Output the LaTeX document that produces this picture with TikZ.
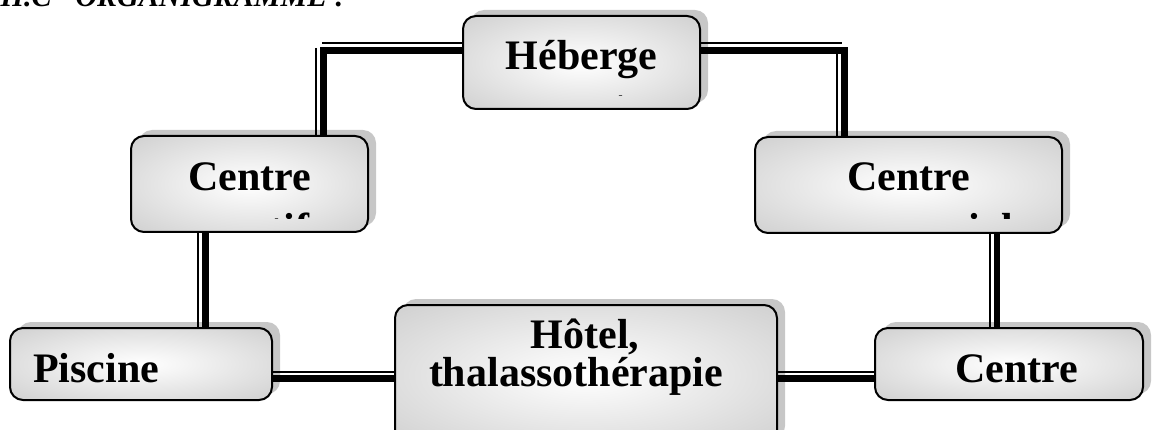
\documentclass[tikz,border=0pt]{standalone}
\usepackage{fontspec}
\setmainfont{Liberation Serif}
\usetikzlibrary{shadows,calc}
\pgfdeclareradialshading{boxshade}{\pgfpoint{0bp}{0bp}}{color(0bp)=(white); color(8bp)=(white!96!black); color(50bp)=(black!26); color(72bp)=(black!28)}
\tikzset{
  orgbox/.style={draw=black, line width=2pt, rounded corners=13pt, shading=boxshade,
    drop shadow={shadow xshift=8pt, shadow yshift=6pt, fill=black!22, opacity=1, draw=none},
    inner sep=0pt},
  lbl/.style={font=\fontsize{42}{48}\selectfont\bfseries, inner sep=0pt, anchor=base},
  titlelbl/.style={font=\fontsize{30}{36}\selectfont\bfseries\itshape, inner sep=0pt, anchor=base east},
  thickl/.style={line width=6.5pt, line cap=butt, line join=miter},
  thinl/.style={line width=2pt, line cap=butt},
}
\begin{document}
\begin{tikzpicture}[x=1pt,y=-1pt]
\useasboundingbox (0,0) rectangle (1155,430);
\clip (0,0) rectangle (1155,430);

% title (cut at the top edge, as in the original)
\node[titlelbl] (title) at (345,7) {II.C\hspace{24pt}ORGANIGRAMME :};

% boxes
\node[orgbox, minimum width=237pt, minimum height=93pt] (heb) at (581.5,62.5) {};
\node[orgbox, minimum width=237pt, minimum height=96pt] (cs) at (249.5,184) {};
\node[orgbox, minimum width=307pt, minimum height=96pt] (cc) at (908.5,185) {};
\node[orgbox, minimum width=262pt, minimum height=72pt] (pis) at (141,364) {};
\node[orgbox, minimum width=382pt, minimum height=140pt] (hot) at (586,375) {};
\node[orgbox, minimum width=268pt, minimum height=72pt] (cr) at (1009,364) {};

% texts (clipped as in the original)
\begin{scope}
  \clip (463,16) rectangle (700,96);
  \node[lbl] (hebt) at (581.5,70) {Héberge};
  \node[lbl] (hebt2) at (581.5,120) {ment};
\end{scope}
\begin{scope}
  \clip (131,136) rectangle (368,219);
  \node[lbl] (cst) at (249.5,191) {Centre};
  \node[lbl] (cst2) at (249.5,242) {sportif};
\end{scope}
\begin{scope}
  \clip (755,137) rectangle (1062,219);
  \node[lbl] (cct) at (908.5,191) {Centre};
  \node[lbl] (cct2) at (908.5,242) {commercial};
\end{scope}
\node[lbl, anchor=base west] (pist) at (33,382) {Piscine};
\node[lbl] (hott) at (585,348) {Hôtel,};
\node[lbl] (hott2) at (576,386) {thalassothérapie};
\node[lbl] (crt) at (1017,382) {Centre};

% connector coordinates
\coordinate (tlc) at (323.7,50.7);
\coordinate (tlh) at (322,43.3);
\coordinate (tlv) at (316,48);
\coordinate (trc) at (844.5,50.7);
\coordinate (trh) at (841.7,43.3);
\coordinate (trv) at (837,48);
\coordinate (llk) at (205.7,280);
\coordinate (llt) at (198.3,280);
\coordinate (rlk) at (997,280);
\coordinate (rlt) at (989.5,280);
\coordinate (bhk) at (330,378.7);
\coordinate (bht) at (330,371.7);

% top left
\draw[thickl] (heb.west |- tlc) -- (tlc) -- (tlc |- cs.north);
\draw[thinl] (tlh) -- (tlh -| heb.west);
\draw[thinl] (tlv) -- (tlv |- cs.north);
% top right
\draw[thickl] (heb.east |- trc) -- (trc) -- (trc |- cc.north);
\draw[thinl] (heb.east |- trh) -- (trh);
\draw[thinl] (trv) -- (trv |- cc.north);
% left vertical
\draw[thickl] (llk |- cs.south) -- (llk |- pis.north);
\draw[thinl] (llt |- cs.south) -- (llt |- pis.north);
% right vertical
\draw[thickl] (rlk |- cc.south) -- (rlk |- cr.north);
\draw[thinl] (rlt |- cc.south) -- (rlt |- cr.north);
% bottom horizontals
\draw[thickl] (pis.east |- bhk) -- (hot.west |- bhk);
\draw[thinl] (pis.east |- bht) -- (hot.west |- bht);
\draw[thickl] (hot.east |- bhk) -- (cr.west |- bhk);
\draw[thinl] (hot.east |- bht) -- (cr.west |- bht);
\end{tikzpicture}
\end{document}
